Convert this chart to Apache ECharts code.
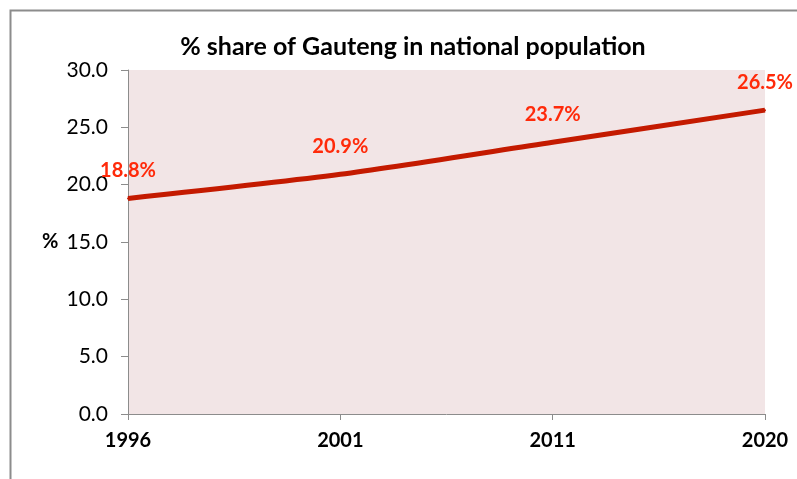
<!DOCTYPE html>
<html>
<head>
<meta charset="utf-8">
<script src="https://cdn.jsdelivr.net/npm/echarts@6/dist/echarts.min.js"></script>
<style>
  html, body { margin: 0; padding: 0; background: #fff; }
  #chart { width: 797px; height: 479px; }
</style>
</head>
<body>
<div id="chart"></div>
<script>
var years = ["1996", "2001", "2011", "2020"];
var share = [18.8, 20.9, 23.7, 26.5];
var yTicks = [0, 5, 10, 15, 20, 25, 30];

var myChart = echarts.init(document.getElementById("chart"));

var option = {
    backgroundColor: "#ffffff",
    animation: false,
    textStyle: { fontFamily: "Lato" },
    title: {
        text: "% share of Gauteng in national population",
        left: 408,
        top: 29,
        textAlign: "center",
        textStyle: { fontFamily: "Lato", fontSize: 25, fontWeight: "bold", color: "#000" }
    },
    graphic: [{
        type: "rect",
        shape: { x: 10.5, y: 10.5, width: 820, height: 500 },
        style: { fill: "none", stroke: "#8c8c8c", lineWidth: 2 },
        silent: true
    }, {
        type: "text",
        left: 42,
        top: 232,
        style: { text: "%", fontFamily: "Lato", fontSize: 20, fontWeight: "bold", fill: "#000" }
    }],
    grid: {
        left: 128,
        right: 32,
        top: 70,
        bottom: 65,
        show: true,
        backgroundColor: "#f2e5e6",
        borderWidth: 0
    },
    xAxis: {
        type: "category",
        data: years,
        boundaryGap: false,
        axisLine: { lineStyle: { color: "#8c8c8c", width: 1 } },
        axisTick: { alignWithLabel: true, length: 6, lineStyle: { color: "#8c8c8c" } },
        axisLabel: { fontFamily: "Lato", fontSize: 20, fontWeight: "bold", color: "#000", margin: 17 },
        splitLine: { show: false }
    },
    yAxis: {
        type: "value",
        min: yTicks[0],
        max: yTicks[yTicks.length - 1],
        interval: 5,
        axisLine: { show: true, lineStyle: { color: "#8c8c8c", width: 1 } },
        axisTick: { show: true, length: 7, lineStyle: { color: "#8c8c8c" } },
        axisLabel: {
            fontFamily: "Lato", fontSize: 21, color: "#000", margin: 20,
            formatter: function (v) { return v.toFixed(1); }
        },
        splitLine: { show: false }
    },
    series: [{
        type: "line",
        data: share,
        smooth: 0.25,
        symbol: "circle",
        symbolSize: 2,
        showSymbol: true,
        itemStyle: { color: "#c41a00" },
        lineStyle: { color: "#c41a00", width: 5 },
        label: {
            show: true,
            position: "top",
            distance: 17,
            fontFamily: "Lato",
            fontSize: 20,
            fontWeight: "bold",
            color: "#ff2a0a",
            formatter: function (p) { return p.value.toFixed(1) + "%"; }
        }
    }]
};

myChart.setOption(option);
</script>
</body>
</html>
